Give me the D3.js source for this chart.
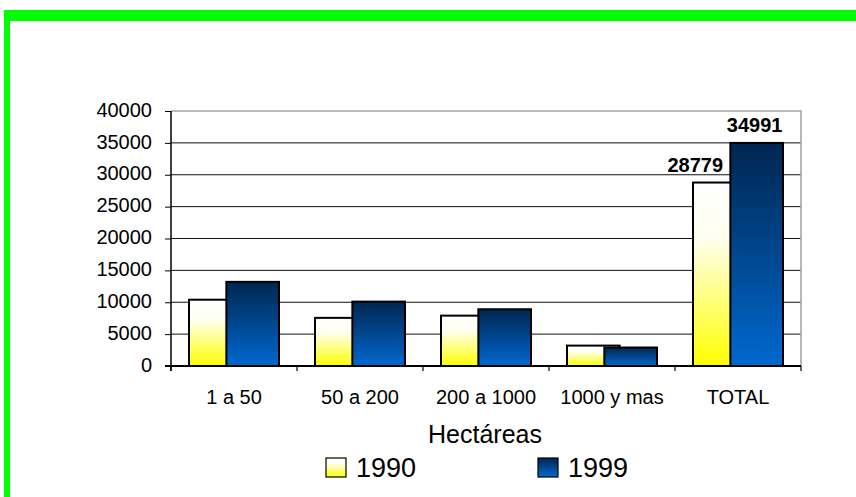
<!DOCTYPE html>
<html>
<head>
<meta charset="utf-8">
<script src="https://cdn.jsdelivr.net/npm/d3@7"></script>
<style>
  html, body { margin: 0; padding: 0; background: #fff; }
  svg { display: block; font-family: "Liberation Sans", Arial, sans-serif; }
</style>
</head>
<body>
<svg id="chart" width="856" height="497"></svg>
<script>
// Farm counts by size range (hectares), 1990 vs 1999
const categories = ["1 a 50", "50 a 200", "200 a 1000", "1000 y mas", "TOTAL"];
const series = ["1990", "1999"];
const values1990 = [10400, 7550, 7900, 3200, 28779];
const values1999 = [13200, 10100, 8900, 2900, 34991];
const yTicks = [0, 5000, 10000, 15000, 20000, 25000, 30000, 35000, 40000];
const labelled = ["TOTAL"];

const svg = d3.select("#chart");
const W = 856, H = 497;
const margin = { left: 171, top: 111, right: 55, bottom: 131 };
const pw = W - margin.left - margin.right;
const ph = H - margin.top - margin.bottom;

// Gradients for the two series
const defs = svg.append("defs");
const grads = {
  "1990": [["0%", "#ffffff"], ["30%", "#fffff0"], ["100%", "#ffff00"]],
  "1999": [["0%", "#002650"], ["50%", "#00478f"], ["100%", "#0068d0"]]
};
Object.entries(grads).forEach(([k, stops]) => {
  const g = defs.append("linearGradient").attr("id", "g" + k)
    .attr("x1", 0).attr("y1", 0).attr("x2", 0).attr("y2", 1);
  stops.forEach(([o, c]) => g.append("stop").attr("offset", o).attr("stop-color", c));
});

// Green frame on the top and left
svg.append("rect").attr("x", 4).attr("y", 10).attr("width", W - 4).attr("height", 11).attr("fill", "#00ff00");
svg.append("rect").attr("x", 4).attr("y", 10).attr("width", 6).attr("height", H - 10).attr("fill", "#00ff00");

const g = svg.append("g").attr("transform", `translate(${margin.left},${margin.top})`);

const x = d3.scaleBand().domain(categories).range([0, pw]).padding(0);
const y = d3.scaleLinear().domain([0, 40000]).range([ph, 0]);

// Gridlines
g.append("g").selectAll("line").data(yTicks.filter(t => t > 0 && t < 40000)).join("line")
  .attr("x1", 0).attr("x2", pw)
  .attr("y1", d => y(d)).attr("y2", d => y(d))
  .attr("stroke", "#111").attr("stroke-width", 1);

// Plot area border (top and right)
g.append("path")
  .attr("d", `M0,${y(40000)}H${pw}V${y(0)}`)
  .attr("fill", "none").attr("stroke", "#a6a6a6").attr("stroke-width", 1.6);

// Bars: the 1999 bar overlaps the 1990 bar inside each group
const band = x.bandwidth();
const groupW = band * 90 / 126;
const barW = groupW * 0.585;
const groupX = c => x(c) + (band - groupW) / 2;
const barX = (c, s) => s === "1990" ? groupX(c) : groupX(c) + groupW - barW;

const data = [];
series.forEach(s => {
  const vals = s === "1990" ? values1990 : values1999;
  categories.forEach((c, i) => data.push({ c, s, v: vals[i] }));
});

g.append("g").selectAll("rect").data(data).join("rect")
  .attr("x", d => barX(d.c, d.s))
  .attr("y", d => y(d.v))
  .attr("width", barW)
  .attr("height", d => y(0) - y(d.v))
  .attr("fill", d => `url(#g${d.s})`)
  .attr("stroke", "#000").attr("stroke-width", 2);

// Value labels on the total bars
g.append("g").selectAll("text").data(data.filter(d => labelled.includes(d.c))).join("text")
  .attr("x", d => d.s === "1990" ? barX(d.c, d.s) + barW / 2 - 24 : barX(d.c, d.s) + barW / 2 - 2)
  .attr("y", d => y(d.v) - 11)
  .attr("text-anchor", "middle")
  .attr("font-size", 20).attr("font-weight", "bold").attr("fill", "#000")
  .text(d => d.v);

// Y axis
const yAxis = g.append("g").call(d3.axisLeft(y).tickValues(yTicks).tickSize(6).tickPadding(13).tickFormat(d3.format("d")));
yAxis.select(".domain").attr("stroke", "#000").attr("stroke-width", 1.5).attr("d", `M0,${y(40000)}V${y(0) + 5}`);
yAxis.selectAll(".tick line").attr("stroke", "#000");
yAxis.selectAll("text").attr("font-size", 20).attr("font-family", "Liberation Sans, Arial, sans-serif").attr("dy", "0.26em").attr("fill", "#000");

// X axis with boundary ticks between categories
const xAxis = g.append("g").attr("transform", `translate(0,${ph})`)
  .call(d3.axisBottom(x).tickSize(0).tickPadding(24));
xAxis.select(".domain").attr("stroke", "#000").attr("stroke-width", 2).attr("d", `M-6,0H${pw}`);
xAxis.selectAll("text").attr("font-size", 20).attr("font-family", "Liberation Sans, Arial, sans-serif").attr("fill", "#000");
xAxis.append("g").selectAll("line").data(categories.concat([null])).join("line")
  .attr("x1", (d, i) => i * band).attr("x2", (d, i) => i * band)
  .attr("y1", 0).attr("y2", 5).attr("stroke", "#000").attr("stroke-width", 1.2);

// Axis title
svg.append("text").attr("x", 485).attr("y", 443)
  .attr("text-anchor", "middle").attr("font-size", 25).attr("fill", "#000")
  .text("Hectáreas");

// Legend
const legendX = { "1990": 326, "1999": 538 };
const lg = svg.append("g").selectAll("g").data(series).join("g")
  .attr("transform", d => `translate(${legendX[d]},458)`);
lg.append("rect").attr("width", 20).attr("height", 19)
  .attr("fill", d => `url(#g${d})`).attr("stroke", "#000").attr("stroke-width", 1.2);
lg.append("text").attr("x", 30).attr("y", 19)
  .attr("font-size", 27).attr("fill", "#000")
  .text(d => d);
</script>
</body>
</html>
